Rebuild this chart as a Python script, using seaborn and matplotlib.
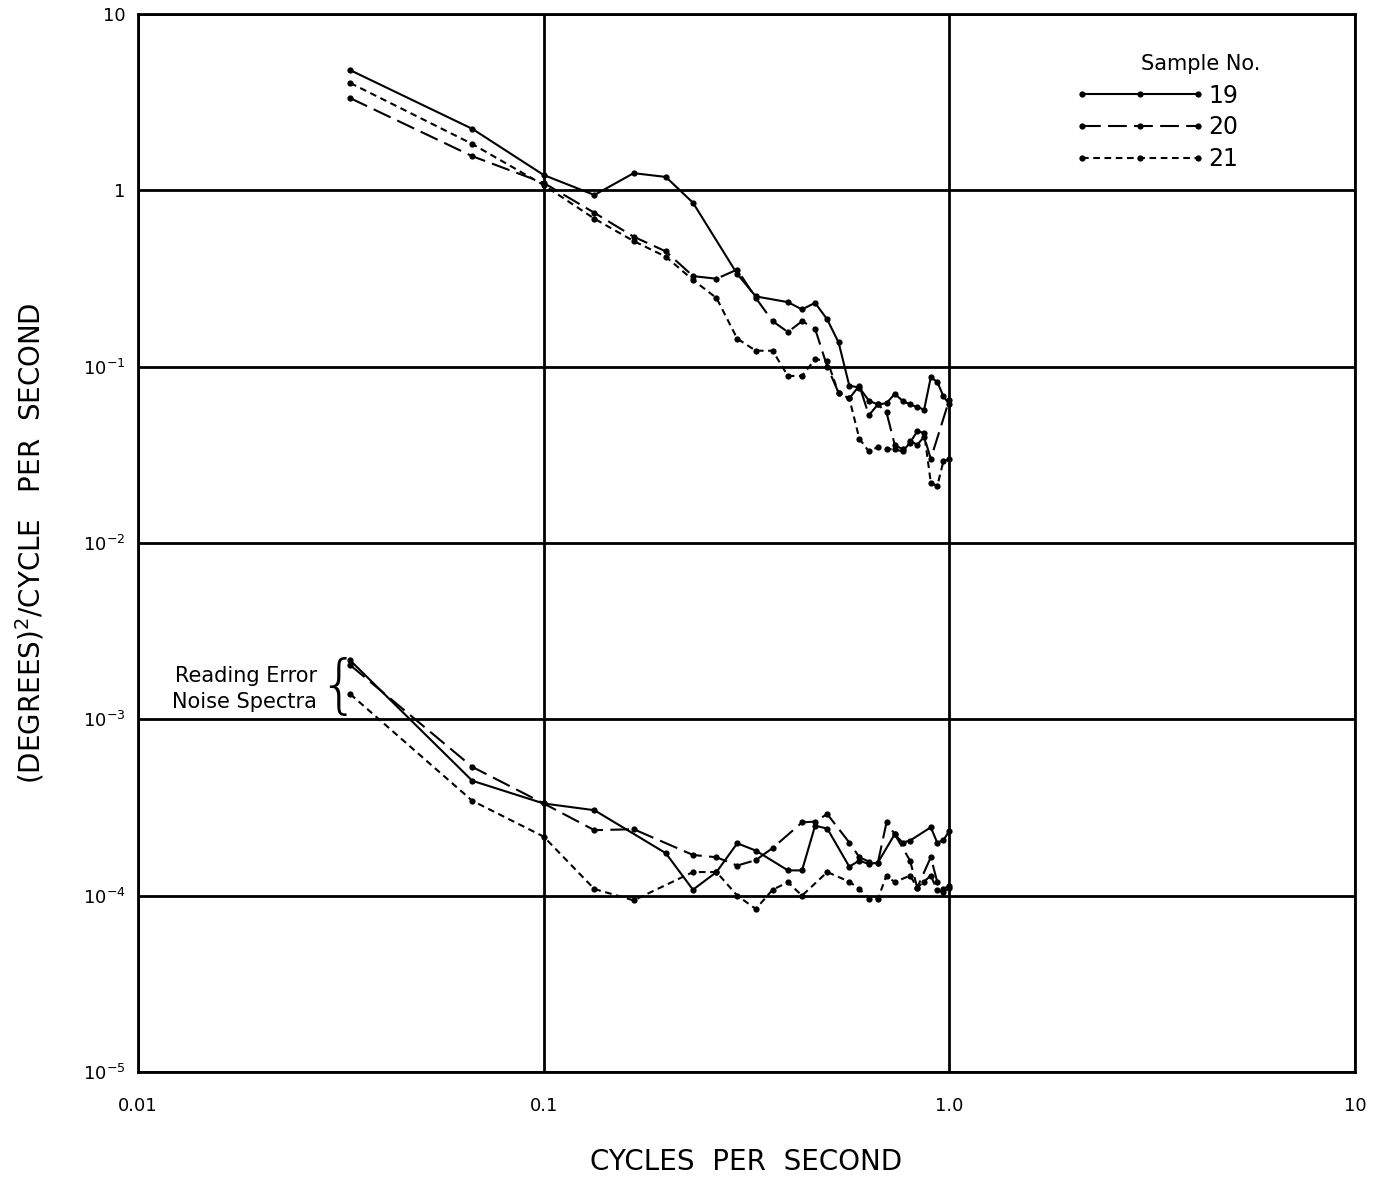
import matplotlib
matplotlib.use("Agg")
import matplotlib.pyplot as plt
import matplotlib.ticker as mticker
from matplotlib.lines import Line2D
import pandas as pd
import seaborn as sns

# spectra are given at harmonics of 1/30 cps (30 s records)
BASE_CPS = 30.0

# ---- upper group: sample spectra ----
up19_k = [1, 2, 3, 4, 5, 6, 7, 9, 10, 12, 13, 14, 15, 16, 17, 18, 19, 20, 21, 22, 23, 24, 25, 26, 27, 28, 29, 30]
up19_v = [4.8, 2.23, 1.22, 0.94, 1.25, 1.19, 0.85, 0.335, 0.25, 0.232, 0.211, 0.23, 0.185, 0.137, 0.078, 0.076,
          0.064, 0.061, 0.062, 0.070, 0.064, 0.061, 0.059, 0.057, 0.087, 0.082, 0.068, 0.061]

up20_k = [1, 2, 3, 4, 5, 6, 7, 8, 9, 10, 11, 12, 13, 14, 15, 16, 17, 18, 19, 20, 21, 22, 23, 24, 25, 26, 27, 30]
up20_v = [3.33, 1.56, 1.10, 0.745, 0.545, 0.45, 0.326, 0.315, 0.355, 0.245, 0.181, 0.157, 0.181, 0.164, 0.10,
          0.071, 0.066, 0.078, 0.053, 0.061, 0.055, 0.036, 0.034, 0.038, 0.036, 0.040, 0.030, 0.065]

up21_k = [1, 2, 3, 4, 5, 6, 7, 8, 9, 10, 11, 12, 13, 14, 15, 16, 17, 18, 19, 20, 21, 22, 23, 24, 25, 26, 27, 28, 29, 30]
up21_v = [4.06, 1.83, 1.07, 0.69, 0.515, 0.42, 0.31, 0.245, 0.144, 0.123, 0.123, 0.0885, 0.0885, 0.110, 0.108,
          0.071, 0.066, 0.039, 0.033, 0.035, 0.034, 0.034, 0.033, 0.037, 0.043, 0.042, 0.022, 0.021, 0.029, 0.030]

# ---- lower group: reading error noise spectra ----
lo19_k = [1, 2, 3, 4, 6, 7, 8, 9, 10, 12, 13, 14, 15, 17, 18, 19, 20, 22, 23, 24, 27, 28, 29, 30]
lo19_v = [2.16e-3, 4.48e-4, 3.33e-4, 3.05e-4, 1.74e-4, 1.08e-4, 1.36e-4, 1.98e-4, 1.80e-4, 1.39e-4, 1.39e-4,
          2.49e-4, 2.40e-4, 1.46e-4, 1.58e-4, 1.51e-4, 1.54e-4, 2.23e-4, 2.00e-4, 2.05e-4, 2.44e-4, 2.00e-4,
          2.06e-4, 2.33e-4]

lo20_k = [1, 2, 3, 4, 5, 7, 8, 9, 10, 11, 13, 14, 15, 17, 18, 19, 20, 21, 22, 24, 25, 27, 28, 29, 30]
lo20_v = [2.03e-3, 5.37e-4, 3.33e-4, 2.35e-4, 2.38e-4, 1.70e-4, 1.65e-4, 1.48e-4, 1.59e-4, 1.86e-4, 2.60e-4,
          2.63e-4, 2.90e-4, 2.00e-4, 1.65e-4, 1.56e-4, 1.54e-4, 2.60e-4, 2.23e-4, 1.58e-4, 1.11e-4, 1.65e-4,
          1.20e-4, 1.09e-4, 1.14e-4]

lo21_k = [1, 2, 3, 4, 5, 7, 8, 9, 10, 11, 12, 13, 15, 17, 18, 19, 20, 21, 22, 24, 25, 26, 27, 28, 29, 30]
lo21_v = [1.39e-3, 3.45e-4, 2.16e-4, 1.09e-4, 9.4e-5, 1.36e-4, 1.36e-4, 1.0e-4, 8.4e-5, 1.08e-4, 1.19e-4,
          1.0e-4, 1.36e-4, 1.20e-4, 1.09e-4, 9.6e-5, 9.6e-5, 1.30e-4, 1.19e-4, 1.30e-4, 1.11e-4, 1.20e-4,
          1.30e-4, 1.07e-4, 1.05e-4, 1.10e-4]

samples = ["19", "20", "21"]
x_ticks = [0.01, 0.1, 1.0, 10.0]
x_ticklabels = ["0.01", "0.1", "1.0", "10"]
y_ticks = [1e-5, 1e-4, 1e-3, 1e-2, 1e-1, 1, 10]
y_ticklabels = [r"$10^{-5}$", r"$10^{-4}$", r"$10^{-3}$", r"$10^{-2}$", r"$10^{-1}$", "1", "10"]


def make_df():
    rows = []
    series = [
        ("upper", "19", up19_k, up19_v), ("upper", "20", up20_k, up20_v), ("upper", "21", up21_k, up21_v),
        ("lower", "19", lo19_k, lo19_v), ("lower", "20", lo20_k, lo20_v), ("lower", "21", lo21_k, lo21_v),
    ]
    for grp, smp, ks, vs in series:
        for k, v in zip(ks, vs):
            rows.append({"group": grp + smp, "sample": smp, "freq": k / BASE_CPS, "psd": v})
    return pd.DataFrame(rows)


df = make_df()

sns.set_theme(style="white")
plt.rcParams["font.family"] = ["DejaVu Sans"]
plt.rcParams["mathtext.fontset"] = "dejavusans"
plt.rcParams["text.color"] = "black"
plt.rcParams["axes.labelcolor"] = "black"

fig = plt.figure(figsize=(13.79, 11.79), dpi=100)
ax = fig.add_axes([0.1001, 0.0908, 0.8825, 0.8974])

line_dashes = {"19": "", "20": (9, 3.5), "21": (3.2, 2.2)}
line_markers = {"19": "o", "20": "o", "21": "o"}

sns.lineplot(data=df, x="freq", y="psd", style="sample", units="group", estimator=None, sort=False,
             color="black", dashes=line_dashes, markers=line_markers, markersize=4.5,
             markeredgewidth=0, linewidth=1.5, legend=False, ax=ax)

ax.set_xscale("log")
ax.set_yscale("log")
ax.set_xlim(0.01, 10)
ax.set_ylim(1e-5, 10)

ax.xaxis.set_minor_locator(mticker.NullLocator())
ax.yaxis.set_minor_locator(mticker.NullLocator())
ax.set_xticks(x_ticks)
ax.set_xticklabels(x_ticklabels)
ax.set_yticks(y_ticks)
ax.set_yticklabels(y_ticklabels)
ax.tick_params(axis="x", length=0, pad=18, labelsize=13, colors="black")
ax.tick_params(axis="y", length=0, pad=9, labelsize=13, colors="black")

ax.grid(True, which="major", color="black", linewidth=2.0)
for sp in ax.spines.values():
    sp.set_color("black")
    sp.set_linewidth(2.0)

ax.set_xlabel("CYCLES  PER  SECOND", fontsize=20, labelpad=24)
ax.set_ylabel(r"(DEGREES)$^2$/CYCLE   PER  SECOND", fontsize=20, labelpad=26)

# legend
handles = []
for s in samples:
    h = Line2D([], [], color="black", lw=1.5, marker="o", ms=4.5, mew=0)
    if line_dashes[s]:
        h.set_dashes(line_dashes[s])
    handles.append(h)
ax.legend(handles, samples, loc="upper left", bbox_to_anchor=(0.77, 0.934), frameon=False,
          fontsize=17, numpoints=3, handlelength=5.5, handletextpad=0.15, labelspacing=0.32,
          borderpad=0, borderaxespad=0)
ax.text(0.873, 0.953, "Sample No.", transform=ax.transAxes, ha="center", va="center", fontsize=15)

# reading error annotation
ax.text(0.0276, 1.48e-3, "Reading Error\nNoise Spectra", ha="right", va="center", fontsize=15,
        linespacing=1.35)
ax.text(0.0312, 1.5e-3, "{", ha="center", va="center", fontsize=46, fontweight="light")

fig.savefig("out.png", dpi=100)
